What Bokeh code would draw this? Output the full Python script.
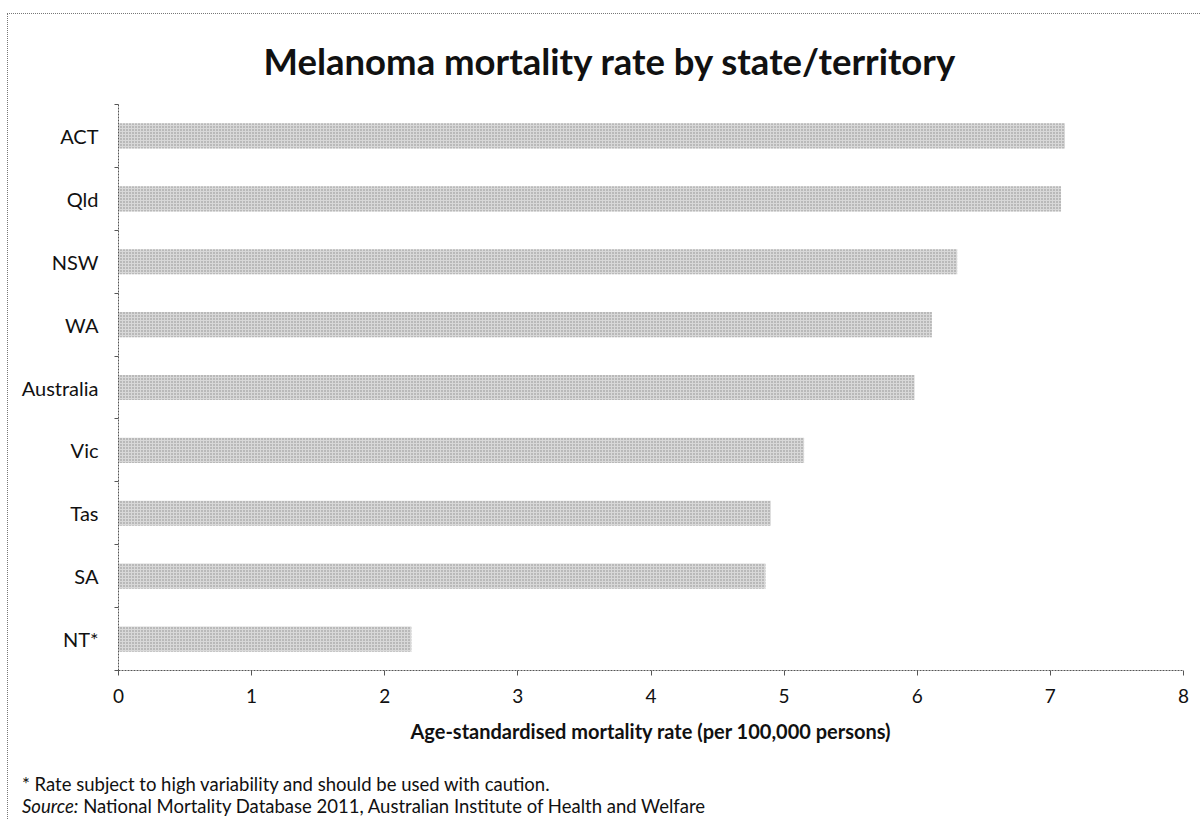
from bokeh.plotting import figure
from bokeh.models import Range1d, FixedTicker, Div
from bokeh.layouts import column
from bokeh.embed import file_html
from bokeh.resources import INLINE

# ---- data ----
categories = ["ACT", "Qld", "NSW", "WA", "Australia", "Vic", "Tas", "SA", "NT*"]
rates = [7.11, 7.08, 6.30, 6.11, 5.98, 5.15, 4.90, 4.86, 2.20]
x_ticks = [0, 1, 2, 3, 4, 5, 6, 7, 8]

title_text = "Melanoma mortality rate by state/territory"
x_title = "Age-standardised mortality rate (per 100,000 persons)"
note_text = "* Rate subject to high variability and should be used with caution."
source_label = "Source:"
source_text = "National Mortality Database 2011, Australian Institute of Health and Welfare"

FONT = "Lato"
n = len(categories)
ypos = [n - 1 - i + 0.5 for i in range(n)]

p = figure(width=1192, height=731, output_backend="svg", toolbar_location=None,
           x_range=Range1d(0, 8), y_range=Range1d(0, n),
           min_border_left=110, min_border_right=17, min_border_top=90,
           min_border_bottom=73)
p.outline_line_color = None
p.grid.visible = False
p.background_fill_color = "white"
p.border_fill_color = "white"

p.title.text = title_text
p.title.align = "left"
p.title.offset = 145
p.title.text_font = FONT
p.title.text_font_style = "bold"
p.title.text_font_size = "36.5px"
p.title.text_color = "#111111"
p.title.standoff = 44

p.hbar(y=ypos, right=rates, left=0, height=0.4,
       fill_color="#d8d8d8", line_color=None,
       hatch_pattern="dot", hatch_color="#8a8a8a", hatch_scale=3, hatch_weight=1)

# x axis
xa = p.xaxis[0]
xa.ticker = FixedTicker(ticks=x_ticks, minor_ticks=[])
xa.axis_line_color = "#555555"
xa.axis_line_dash = "2 1"
xa.major_tick_line_color = "#555555"
xa.major_tick_out = 5
xa.major_tick_in = 0
xa.minor_tick_line_color = None
xa.major_label_text_font = FONT
xa.major_label_text_font_size = "19px"
xa.major_label_text_color = "#111111"
xa.major_label_standoff = 13
xa.axis_label = x_title
xa.axis_label_text_font = FONT
xa.axis_label_text_font_style = "bold"
xa.axis_label_text_font_size = "20px"
xa.axis_label_text_color = "#111111"
xa.axis_label_standoff = 13

# y axis
ya = p.yaxis[0]
ya.ticker = FixedTicker(ticks=ypos, minor_ticks=list(range(n + 1)))
ya.major_label_overrides = {y: c for y, c in zip(ypos, categories)}
ya.axis_line_color = "#555555"
ya.axis_line_dash = "2 1"
ya.major_tick_line_color = None
ya.major_tick_out = 0
ya.major_tick_in = 0
ya.minor_tick_line_color = "#555555"
ya.minor_tick_out = 4
ya.minor_tick_in = 0
ya.major_label_text_font = FONT
ya.major_label_text_font_size = "20px"
ya.major_label_text_color = "#111111"
ya.major_label_standoff = 16

notes = Div(
    text=(f"<div>{note_text}</div>"
          f"<div><i>{source_label}</i> {source_text}</div>"),
    width=1100, height=74,
    styles={"font-family": "Lato", "font-size": "18.5px", "color": "#111111",
            "line-height": "22px", "padding-top": "23px", "padding-left": "9px"},
)

layout = column(p, notes, spacing=0,
                styles={"border-top": "1px dotted #777777",
                        "border-left": "1px dotted #777777",
                        "margin-top": "13px", "margin-left": "7px"})

open("out.html", "w").write(file_html(layout, INLINE))
